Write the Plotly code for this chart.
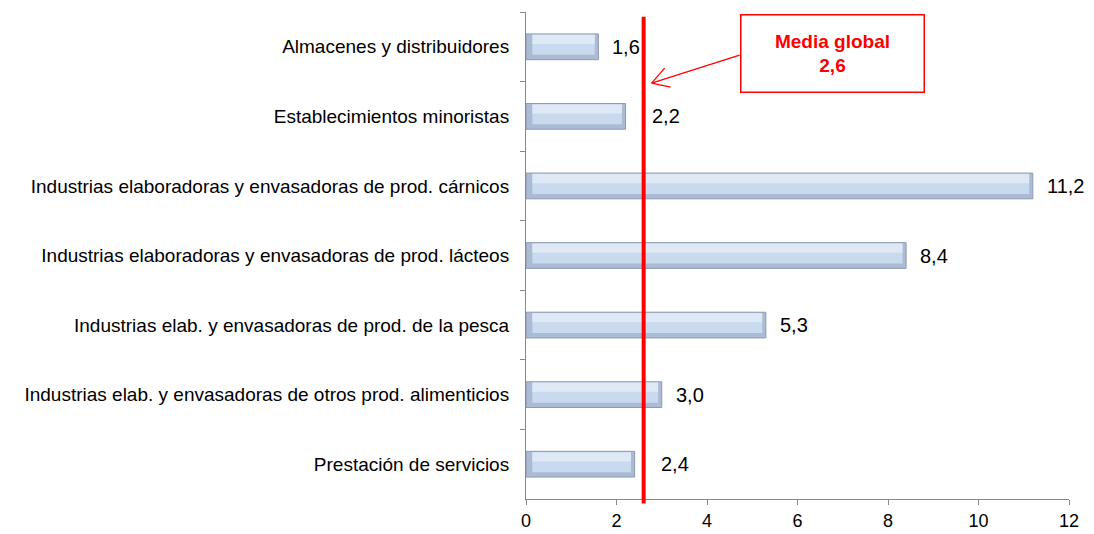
import plotly.graph_objects as go

categories = [
    "Almacenes y distribuidores",
    "Establecimientos minoristas",
    "Industrias elaboradoras y envasadoras de prod. cárnicos",
    "Industrias elaboradoras y envasadoras de prod. lácteos",
    "Industrias elab. y envasadoras de prod. de la pesca",
    "Industrias elab. y envasadoras de otros prod. alimenticios",
    "Prestación de servicios",
]
values = [1.6, 2.2, 11.2, 8.4, 5.3, 3.0, 2.4]
value_labels = ["1,6", "2,2", "11,2", "8,4", "5,3", "3,0", "2,4"]
global_mean = 2.6
global_mean_label = "Media global<br>2,6"
x_ticks = [0, 2, 4, 6, 8, 10, 12]

FONT = "Liberation Sans"

fig = go.Figure()
# outer bar (darker bevel edge)
fig.add_trace(go.Bar(
    y=categories, x=values, orientation="h", width=0.37,
    marker=dict(color="#aabbd3", line=dict(color="#8d9bb0", width=1)),
    hoverinfo="skip", showlegend=False,
))
# body
fig.add_trace(go.Bar(
    y=categories, x=[v - 0.22 for v in values], base=0.14, orientation="h", width=0.29,
    offset=-0.175,
    marker=dict(color="#c9d9ee", line=dict(width=0)),
    hoverinfo="skip", showlegend=False,
))
# top highlight
fig.add_trace(go.Bar(
    y=categories, x=[v - 0.22 for v in values], base=0.14, orientation="h", width=0.13,
    offset=-0.17,
    marker=dict(color="#dfe9f6", line=dict(width=0)),
    hoverinfo="skip", showlegend=False,
))

# value labels; nudge those that would collide with the mean line
for c, v, t in zip(categories, values, value_labels):
    shift = 12
    if v < global_mean and v + 0.93 > global_mean:
        shift += 12
    fig.add_annotation(x=v, y=c, text=t, showarrow=False, xanchor="left",
                       xshift=shift, font=dict(family=FONT, size=20, color="#000"))

# mean line
fig.add_shape(type="line", xref="x", yref="paper", x0=global_mean, x1=global_mean,
              y0=-0.009, y1=0.99, line=dict(color="#ff0000", width=4))

# arrow (pixel-sized shapes anchored at the mean)
tip_y = 0.854
for (x1, y1) in [(96, 28), (21, 15), (27, -4)]:
    fig.add_shape(type="line", xref="x", yref="paper", xsizemode="pixel", ysizemode="pixel",
                  xanchor=global_mean, yanchor=tip_y, x0=8, y0=0, x1=x1, y1=y1,
                  line=dict(color="#ff0000", width=1.3))

# label box
fig.add_annotation(xref="paper", yref="paper", x=0.565, y=0.915, xanchor="center", yanchor="middle",
                   text="<b>" + global_mean_label + "</b>", showarrow=False,
                   font=dict(family=FONT, size=19, color="#ff0000"),
                   bordercolor="#ff0000", borderwidth=1.5, borderpad=9,
                   bgcolor="white", width=164, height=58)

fig.update_layout(
    width=1094, height=534,
    margin=dict(l=518, r=33, t=4, b=43, autoexpand=False),
    plot_bgcolor="white", paper_bgcolor="white",
    barmode="overlay",
    font=dict(family=FONT, size=19, color="#000"),
    xaxis=dict(range=[0, 12], tickvals=x_ticks, ticktext=[str(t) for t in x_ticks],
               showgrid=False, zeroline=False, showline=True, linecolor="#888888",
               linewidth=1, ticks="outside", ticklen=5, tickcolor="#888888",
               automargin=False, tickfont=dict(family=FONT, size=18)),
    yaxis=dict(categoryorder="array", categoryarray=categories,
               range=[6.5, -0.5], showgrid=False, zeroline=False, showline=True,
               linecolor="#888888", linewidth=1, ticks="outside", ticklen=5,
               tickcolor="#888888", tickson="boundaries", ticklabelstandoff=12,
               automargin=False, tickfont=dict(family=FONT, size=19)),
)

fig.write_html("out.html")
